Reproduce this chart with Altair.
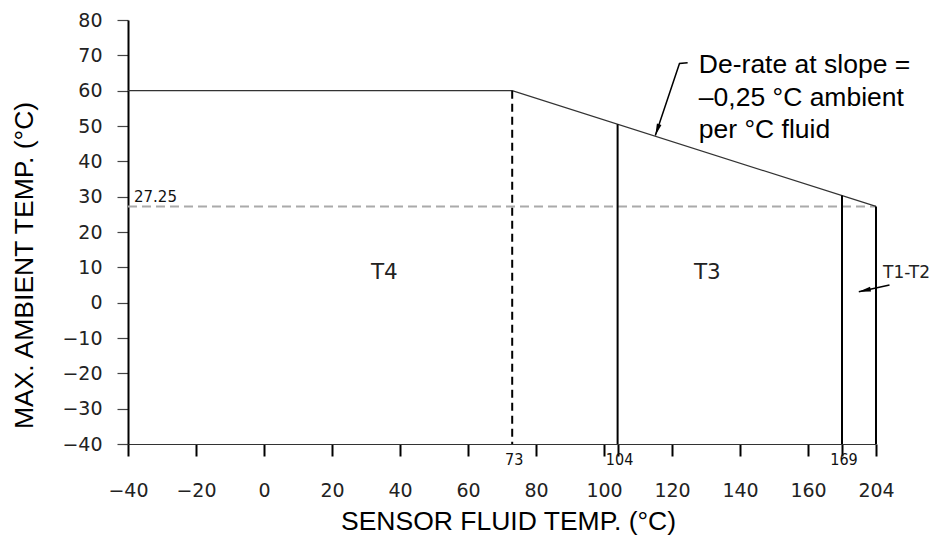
import altair as alt
import pandas as pd

# ---------------- data ----------------
boundary_x = [-40, 73, 204]
boundary_y = [60, 60, 27.25]

zone_x = [73, 104, 169, 204]
zone_top = [60, 50.5, 30.3, 27.25]
zone_style = ["dashed", "solid", "solid", "solid"]
zone_floor = -40

ref_level = 27.25
ref_label = "27.25"
ref_x = [-40, 204]

x_tick_values = [-40, -20, 0, 20, 40, 60, 80, 100, 120, 140, 160, 204]
x_extra_ticks = [104, 169]
y_tick_values = [-40, -30, -20, -10, 0, 10, 20, 30, 40, 50, 60, 70, 80]

marker_labels = ["73", "104", "169"]
marker_x = [73, 104, 169]

zone_names = ["T4", "T3"]
zone_name_x = [35.4, 130.4]
zone_name_y = [6.6, 6.6]
edge_name = ["T1-T2"]
edge_name_x = [204]
edge_name_y = [7.0]

note_lines = ["De-rate at slope =", "–0,25 °C ambient", "per °C fluid"]
note_x = [127.9]
note_y = [64.9]

note_leader_x = [124.6, 122.2, 115.1]
note_leader_y = [67.9, 67.7, 47.3]
edge_leader_x = [217.9, 186.3]
edge_leader_y = [5.0, 3.1]
arrow_x = [115.1, 186.3]
arrow_y = [47.3, 3.1]
arrow_angle = [18.7, 77.7]

# ---------------- tables ----------------
boundary_df = pd.DataFrame({"x": boundary_x, "y": boundary_y})
zone_df = pd.DataFrame({"x": zone_x, "y": zone_top, "y2": [zone_floor] * len(zone_x),
                        "style": zone_style})
ref_df = pd.DataFrame({"x": [ref_x[0]], "x2": [ref_x[1]], "y": [ref_level], "label": [ref_label]})
marker_df = pd.DataFrame({"x": marker_x, "y": [zone_floor] * len(marker_x), "label": marker_labels})
zname_df = pd.DataFrame({"x": zone_name_x, "y": zone_name_y, "label": zone_names})
ename_df = pd.DataFrame({"x": edge_name_x, "y": edge_name_y, "label": edge_name})
note_df = pd.DataFrame({"x": note_x, "y": note_y, "label": [note_lines]})
nlead_df = pd.DataFrame({"x": note_leader_x, "y": note_leader_y, "i": range(len(note_leader_x))})
elead_df = pd.DataFrame({"x": edge_leader_x, "y": edge_leader_y, "i": range(len(edge_leader_x))})
arrow_df = pd.DataFrame({"x": arrow_x, "y": arrow_y, "angle": arrow_angle})

# ---------------- scales & axes ----------------
xs = alt.Scale(domain=[-40, 160, 169, 204], range=[0, 680, 714, 748], zero=False, nice=False)
ys = alt.Scale(domain=[-40, 80], zero=False, nice=False)

blank_expr = " || ".join(f"datum.value == {v}" for v in x_extra_ticks)
xaxis = alt.Axis(
    values=x_tick_values + x_extra_ticks,
    labelExpr=f"({blank_expr}) ? '' : datum.label",
    title="SENSOR FLUID TEMP. (°C)",
    grid=False, tickSize=12, tickWidth=2, tickColor="black",
    domainColor="#333", domainWidth=1,
    labelFont="DejaVu Sans", labelFontSize=19, labelColor="#222", labelPadding=25,
    labelFlush=False, labelOverlap=False,
    titleFont="Liberation Sans", titleFontSize=26.5, titleFontWeight="normal",
    titleColor="black", titleX=380, titleY=85, titleBaseline="alphabetic",
    titleAlign="center",
)
yaxis = alt.Axis(
    values=y_tick_values,
    title="MAX. AMBIENT TEMP. (°C)",
    grid=False, tickSize=11, tickWidth=1.2, tickColor="#444",
    domainColor="black", domainWidth=2,
    labelFont="DejaVu Sans", labelFontSize=19, labelColor="#222", labelPadding=15,
    labelFlush=False, labelOverlap=False,
    titleFont="Liberation Sans", titleFontSize=26.5, titleFontWeight="normal",
    titleColor="black", titleX=-95.5, titleY=245, titleBaseline="alphabetic",
    titleAlign="center", titleAngle=-90,
)


def X(f="x"):
    return alt.X(f"{f}:Q", scale=xs, axis=xaxis)


def Y(f="y"):
    return alt.Y(f"{f}:Q", scale=ys, axis=yaxis)


ref_rule = alt.Chart(ref_df).mark_rule(color="#aaaaaa", strokeWidth=2, strokeDash=[9, 5]).encode(
    x=X(), x2="x2:Q", y=Y())
ref_text = alt.Chart(ref_df).mark_text(font="DejaVu Sans", fontSize=15, color="#111", align="left",
                                       baseline="alphabetic", dx=6, dy=-4.5).encode(
    x=X(), y=Y(), text="label:N")

boundary = alt.Chart(boundary_df).mark_line(color="#333", strokeWidth=1.2).encode(x=X(), y=Y())

zones = alt.Chart(zone_df).mark_rule(color="black", strokeWidth=2).encode(
    x=X(), y=Y(), y2="y2:Q",
    strokeDash=alt.StrokeDash("style:N", scale=alt.Scale(domain=["dashed", "solid"],
                                                         range=[[8, 5], [1, 0]]), legend=None))

markers = alt.Chart(marker_df).mark_text(font="Liberation Sans Narrow, DejaVu Sans Condensed, sans-serif",
                                         fontSize=16, color="#111", align="center",
                                         baseline="alphabetic", dx=2, dy=21.3).encode(
    x=X(), y=Y(), text="label:N")

znames = alt.Chart(zname_df).mark_text(font="DejaVu Sans", fontSize=21.5, color="#222", align="center",
                                       baseline="alphabetic").encode(x=X(), y=Y(), text="label:N")
enames = alt.Chart(ename_df).mark_text(font="DejaVu Sans", fontSize=17, color="#222", align="left",
                                       baseline="alphabetic", dx=7).encode(x=X(), y=Y(), text="label:N")

note = alt.Chart(note_df).mark_text(font="Liberation Sans", fontSize=26.5, color="black", align="left",
                                    baseline="alphabetic", lineHeight=32.5).encode(
    x=X(), y=Y(), text="label")

nlead = alt.Chart(nlead_df).mark_line(color="black", strokeWidth=1.5).encode(x=X(), y=Y(), order="i:Q")
elead = alt.Chart(elead_df).mark_line(color="black", strokeWidth=1.5).encode(x=X(), y=Y(), order="i:Q")

arrows = alt.Chart(arrow_df).mark_point(shape="M0,0L-0.2,-1L0.2,-1Z", filled=True, color="black",
                                        opacity=1, size=576).encode(
    x=X(), y=Y(), angle=alt.Angle("angle:Q", scale=None))

chart = alt.layer(ref_rule, boundary, zones, ref_text, markers, znames, enames, note,
                  nlead, elead, arrows).properties(
    width=748, height=424,
    padding={"left": 120, "top": 12, "right": 56, "bottom": 91},
    autosize=alt.AutoSizeParams(type="none"),
    background="white",
).configure_view(stroke=None)

chart.save("out.html", embed_options={"renderer": "svg", "actions": False})
